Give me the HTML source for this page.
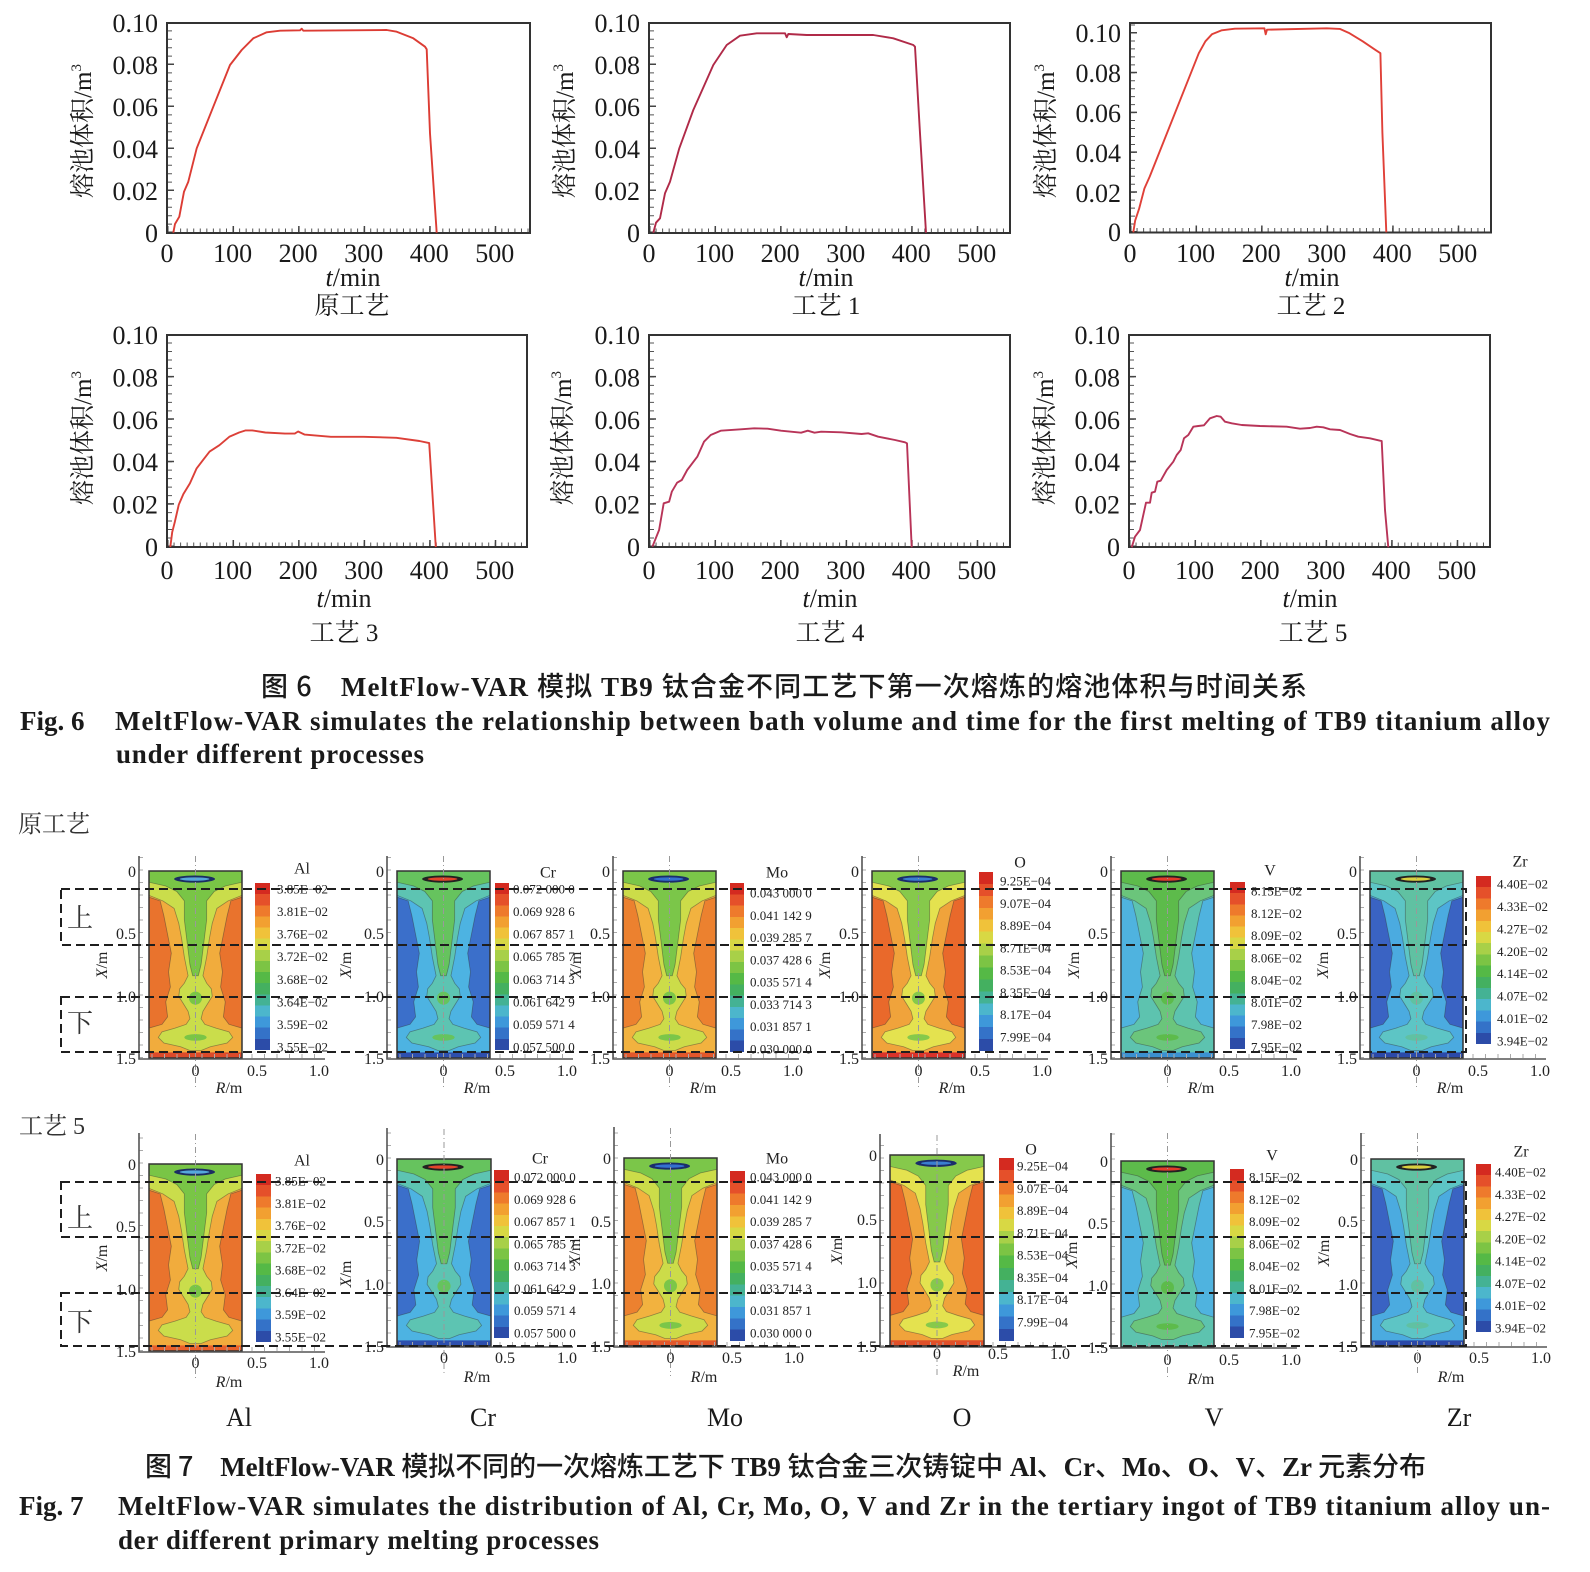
<!DOCTYPE html>
<html><head><meta charset="utf-8"><style>
html,body{margin:0;padding:0;background:#fff}
svg{display:block}
.fr{fill:none;stroke:#333;stroke-width:2}
.tk1{stroke:#555;stroke-width:5}
.tk2{stroke:#444;stroke-width:7}
.cv{fill:none;stroke-width:1.9;stroke-linejoin:round}
.t26{font-size:26px}
.e{text-anchor:end}
.m{text-anchor:middle}
.cl{stroke:#999;stroke-width:1;stroke-dasharray:6 3 1 3}
.ax{fill:none;stroke:#555;stroke-width:1.6}
.mt{stroke:#aaa;stroke-width:4;stroke-dasharray:1 11.5}
.tr{font-size:16px;text-anchor:end;fill:#222}
.tm{font-size:16px;text-anchor:middle;fill:#222}
.cb{font-size:13px;fill:#222}
.ct{font-size:16px;text-anchor:middle;fill:#222}
.cap{font-size:27px;font-weight:bold;font-family:"Liberation Serif","Noto Sans CJK SC",serif}
.hs{font-family:"Noto Sans CJK SC",sans-serif;font-weight:500}
.cs{font-family:"Liberation Serif","Noto Serif CJK SC",serif}
</style></head><body>
<svg width="1590" height="1572" viewBox="0 0 1590 1572" xmlns="http://www.w3.org/2000/svg" font-family="'Liberation Serif','Noto Serif CJK SC',serif" fill="#1a1a1a">
<defs>
<linearGradient id="cbg" x1="0" y1="0" x2="0" y2="1">
<stop offset="0" stop-color="#d42a20"/><stop offset=".0667" stop-color="#d42a20"/>
<stop offset=".0667" stop-color="#e5502a"/><stop offset=".1333" stop-color="#e5502a"/>
<stop offset=".1333" stop-color="#ee7a2c"/><stop offset=".2" stop-color="#ee7a2c"/>
<stop offset=".2" stop-color="#f2a031"/><stop offset=".2667" stop-color="#f2a031"/>
<stop offset=".2667" stop-color="#f0c23a"/><stop offset=".3333" stop-color="#f0c23a"/>
<stop offset=".3333" stop-color="#d8d844"/><stop offset=".4" stop-color="#d8d844"/>
<stop offset=".4" stop-color="#a8d048"/><stop offset=".4667" stop-color="#a8d048"/>
<stop offset=".4667" stop-color="#7cc444"/><stop offset=".5333" stop-color="#7cc444"/>
<stop offset=".5333" stop-color="#55b946"/><stop offset=".6" stop-color="#55b946"/>
<stop offset=".6" stop-color="#44b060"/><stop offset=".6667" stop-color="#44b060"/>
<stop offset=".6667" stop-color="#44b294"/><stop offset=".7333" stop-color="#44b294"/>
<stop offset=".7333" stop-color="#4cb6cc"/><stop offset=".8" stop-color="#4cb6cc"/>
<stop offset=".8" stop-color="#3e98da"/><stop offset=".8667" stop-color="#3e98da"/>
<stop offset=".8667" stop-color="#3472c8"/><stop offset=".9333" stop-color="#3472c8"/>
<stop offset=".9333" stop-color="#2c4ca8"/><stop offset="1" stop-color="#2c4ca8"/>
</linearGradient>
<path id="pm" stroke="#333" stroke-opacity=".45" stroke-width=".8" vector-effect="non-scaling-stroke" d="M0,0H100V14L88,16L84,24L80,34L76,44L79,54L77,62L82,70L80,78L86,82L100,84V100H0V84L14,82L20,78L18,70L23,62L21,54L24,44L20,34L16,24L12,16L0,14Z"/>
<path id="pl" stroke="#333" stroke-opacity=".45" stroke-width=".8" vector-effect="non-scaling-stroke" d="M0,2H100V13L85,16L73,20L68,28L65,36L62,46L58,56L62,60L67,63L68,67L63,71L58,75L56,79L60,82L72,84L86,86L90,89L84,92L66,94L56,96L44,96L34,94L16,92L10,89L14,86L28,84L40,82L44,79L42,75L37,71L32,67L33,63L38,60L42,56L38,46L35,36L32,28L27,20L15,16L0,13Z"/>
<path id="pc" stroke="#333" stroke-opacity=".45" stroke-width=".8" vector-effect="non-scaling-stroke" d="M0,0H100V6L82,8L70,11L62,16L62,26L60,34L58,42L56,50L53,56L47,56L44,50L42,42L40,34L38,26L38,16L30,11L18,8L0,6Z"/>
</defs>
<rect width="1590" height="1572" fill="#fff"/>

<!-- ============ LINE CHARTS ROW 1 ============ -->
<g>
<line x1="167" y1="231" x2="530" y2="231" class="tk1" stroke-dasharray="1 5.555"/>
<line x1="167" y1="229.5" x2="530" y2="229.5" class="tk2" stroke-dasharray="1.5 64.05"/>
<line x1="169.5" y1="233" x2="169.5" y2="23" class="tk1" stroke-dasharray="1 7.4"/>
<line x1="170.5" y1="233" x2="170.5" y2="23" class="tk2" stroke-dasharray="1.5 40.5"/>
<rect x="167" y="23" width="363" height="210" class="fr"/>
<polyline class="cv" stroke="#dc3c34" points="173.3,232.7 175,224 179.3,216.7 184,191.7 188.3,181.7 196.7,148.3 213.3,106.7 230,65 241.7,50 253.3,38.3 266.7,32.3 280,30.7 300,30.3 301.7,28.7 303.3,30.7 386.7,30 396.7,31.7 413.3,38.3 425,46.7 426.7,49.3 430,133.3 436.7,232.7"/>
<g class="t26">
<text x="158" y="32" class="e">0.10</text><text x="158" y="74" class="e">0.08</text><text x="158" y="116" class="e">0.06</text><text x="158" y="158" class="e">0.04</text><text x="158" y="200" class="e">0.02</text><text x="158" y="242" class="e">0</text>
<text x="167" y="262" class="m">0</text><text x="232.6" y="262" class="m">100</text><text x="298.1" y="262" class="m">200</text><text x="363.7" y="262" class="m">300</text><text x="429.2" y="262" class="m">400</text><text x="494.8" y="262" class="m">500</text>
<text x="353" y="286" class="m"><tspan font-style="italic">t</tspan>/min</text>
<text x="352" y="314" class="m" font-size="25">原工艺</text>
<text transform="translate(91,131) rotate(-90)" class="m" font-size="25">熔池体积/m<tspan font-size="15" dy="-10">3</tspan></text>
</g>
</g>
<g>
<line x1="649" y1="231" x2="1010" y2="231" class="tk1" stroke-dasharray="1 5.555"/>
<line x1="649" y1="229.5" x2="1010" y2="229.5" class="tk2" stroke-dasharray="1.5 64.05"/>
<line x1="651.5" y1="233" x2="651.5" y2="23" class="tk1" stroke-dasharray="1 7.4"/>
<line x1="652.5" y1="233" x2="652.5" y2="23" class="tk2" stroke-dasharray="1.5 40.5"/>
<rect x="649" y="23" width="361" height="210" class="fr"/>
<polyline class="cv" stroke="#b02a48" points="653.3,232.7 656,222.7 660,218.3 665,193.3 670,181.7 679.3,148.3 693.3,110 713.3,65 726.7,45 740,35.7 756.7,33.3 785,33.3 786.7,37.3 788.3,34 806.7,35 873.3,35 893.3,38.3 913.3,45 915,46.7 920,133.3 926,232.7"/>
<g class="t26">
<text x="640" y="32" class="e">0.10</text><text x="640" y="74" class="e">0.08</text><text x="640" y="116" class="e">0.06</text><text x="640" y="158" class="e">0.04</text><text x="640" y="200" class="e">0.02</text><text x="640" y="242" class="e">0</text>
<text x="649" y="262" class="m">0</text><text x="714.6" y="262" class="m">100</text><text x="780.1" y="262" class="m">200</text><text x="845.7" y="262" class="m">300</text><text x="911.2" y="262" class="m">400</text><text x="976.8" y="262" class="m">500</text>
<text x="826" y="286" class="m"><tspan font-style="italic">t</tspan>/min</text>
<text x="826" y="314" class="m" font-size="25">工艺 1</text>
<text transform="translate(573,131) rotate(-90)" class="m" font-size="25">熔池体积/m<tspan font-size="15" dy="-10">3</tspan></text>
</g>
</g>
<g>
<line x1="1130" y1="230.5" x2="1491" y2="230.5" class="tk1" stroke-dasharray="1 5.555"/>
<line x1="1130" y1="229" x2="1491" y2="229" class="tk2" stroke-dasharray="1.5 64.05"/>
<line x1="1132.5" y1="232.5" x2="1132.5" y2="23" class="tk1" stroke-dasharray="1 6.96"/>
<line x1="1133.5" y1="232.5" x2="1133.5" y2="23" class="tk2" stroke-dasharray="1.5 38.3"/>
<rect x="1130" y="23" width="361" height="209.5" class="fr"/>
<polyline class="cv" stroke="#e04038" points="1133.3,232.3 1135.2,220.4 1139.2,208.4 1144.4,188.5 1149.7,176.6 1198.8,53.2 1205.4,41.3 1211.9,34.3 1221.8,30.3 1234.9,28.7 1264.4,28.3 1265.7,34.3 1267,29.7 1326.7,28.3 1339.8,28.9 1349.6,33.3 1362.7,41.3 1375.8,50.2 1380.4,53.2 1382.4,132.8 1386.3,232.3"/>
<g class="t26">
<text x="1121" y="42" class="e">0.10</text><text x="1121" y="82" class="e">0.08</text><text x="1121" y="122" class="e">0.06</text><text x="1121" y="162" class="e">0.04</text><text x="1121" y="202" class="e">0.02</text><text x="1121" y="241" class="e">0</text>
<text x="1130" y="262" class="m">0</text><text x="1195.6" y="262" class="m">100</text><text x="1261.1" y="262" class="m">200</text><text x="1326.7" y="262" class="m">300</text><text x="1392.2" y="262" class="m">400</text><text x="1457.8" y="262" class="m">500</text>
<text x="1312" y="286" class="m"><tspan font-style="italic">t</tspan>/min</text>
<text x="1311" y="314" class="m" font-size="25">工艺 2</text>
<text transform="translate(1054,131) rotate(-90)" class="m" font-size="25">熔池体积/m<tspan font-size="15" dy="-10">3</tspan></text>
</g>
</g>

<!-- ============ LINE CHARTS ROW 2 ============ -->
<g>
<line x1="167" y1="545" x2="527" y2="545" class="tk1" stroke-dasharray="1 5.555"/>
<line x1="167" y1="543.5" x2="527" y2="543.5" class="tk2" stroke-dasharray="1.5 64.05"/>
<line x1="169.5" y1="547" x2="169.5" y2="335" class="tk1" stroke-dasharray="1 7.48"/>
<line x1="170.5" y1="547" x2="170.5" y2="335" class="tk2" stroke-dasharray="1.5 40.9"/>
<rect x="167" y="335" width="360" height="212" class="fr"/>
<polyline class="cv" stroke="#dc4038" points="170.3,547 172.2,532.2 174.9,521.6 178.8,504.6 183.4,494 189.9,483.4 196.5,468.6 203,460.1 209.6,451.6 219.4,445.2 229.3,436.8 239.1,432.5 245.7,430.4 252.2,430.4 265.3,432.5 285,433.6 294.8,433.6 298.1,431.5 304.7,434.6 330.9,436.8 363.7,436.8 396.4,437.8 419.4,441 429.2,443.1 435.8,547"/>
<g class="t26">
<text x="158" y="344" class="e">0.10</text><text x="158" y="386.4" class="e">0.08</text><text x="158" y="428.8" class="e">0.06</text><text x="158" y="471.2" class="e">0.04</text><text x="158" y="513.6" class="e">0.02</text><text x="158" y="556" class="e">0</text>
<text x="167" y="579" class="m">0</text><text x="232.6" y="579" class="m">100</text><text x="298.1" y="579" class="m">200</text><text x="363.7" y="579" class="m">300</text><text x="429.2" y="579" class="m">400</text><text x="494.8" y="579" class="m">500</text>
<text x="344" y="607" class="m"><tspan font-style="italic">t</tspan>/min</text>
<text x="344" y="641" class="m" font-size="25">工艺 3</text>
<text transform="translate(91,438) rotate(-90)" class="m" font-size="25">熔池体积/m<tspan font-size="15" dy="-10">3</tspan></text>
</g>
</g>
<g>
<line x1="649" y1="545" x2="1010" y2="545" class="tk1" stroke-dasharray="1 5.555"/>
<line x1="649" y1="543.5" x2="1010" y2="543.5" class="tk2" stroke-dasharray="1.5 64.05"/>
<line x1="651.5" y1="547" x2="651.5" y2="335" class="tk1" stroke-dasharray="1 7.48"/>
<line x1="652.5" y1="547" x2="652.5" y2="335" class="tk2" stroke-dasharray="1.5 40.9"/>
<rect x="649" y="335" width="361" height="212" class="fr"/>
<polyline class="cv" stroke="#b83458" points="652.4,546.7 659.1,530 663.7,503.3 669.1,501.7 671.8,491.7 677.1,482.7 681.8,480 687.2,470 697.3,456.7 704,441.7 710.7,435 720.7,430.7 740.8,429.3 754.2,428.3 767.6,428.7 781,430.7 801.1,432.7 807.8,430.7 814.5,432.7 821.2,431.7 841.3,432.3 861.5,434 868.2,433.3 878.2,436.7 895,440 905,442.3 907,443.3 911.7,547.3"/>
<g class="t26">
<text x="640" y="344" class="e">0.10</text><text x="640" y="386.4" class="e">0.08</text><text x="640" y="428.8" class="e">0.06</text><text x="640" y="471.2" class="e">0.04</text><text x="640" y="513.6" class="e">0.02</text><text x="640" y="556" class="e">0</text>
<text x="649" y="579" class="m">0</text><text x="714.6" y="579" class="m">100</text><text x="780.1" y="579" class="m">200</text><text x="845.7" y="579" class="m">300</text><text x="911.2" y="579" class="m">400</text><text x="976.8" y="579" class="m">500</text>
<text x="830" y="607" class="m"><tspan font-style="italic">t</tspan>/min</text>
<text x="830" y="641" class="m" font-size="25">工艺 4</text>
<text transform="translate(571,438) rotate(-90)" class="m" font-size="25">熔池体积/m<tspan font-size="15" dy="-10">3</tspan></text>
</g>
</g>
<g>
<line x1="1129" y1="545" x2="1490" y2="545" class="tk1" stroke-dasharray="1 5.555"/>
<line x1="1129" y1="543.5" x2="1490" y2="543.5" class="tk2" stroke-dasharray="1.5 64.05"/>
<line x1="1131.5" y1="547" x2="1131.5" y2="335" class="tk1" stroke-dasharray="1 7.48"/>
<line x1="1132.5" y1="547" x2="1132.5" y2="335" class="tk2" stroke-dasharray="1.5 40.9"/>
<rect x="1129" y="335" width="361" height="212" class="fr"/>
<polyline class="cv" stroke="#b83458" points="1131.7,547.3 1135,536.7 1140,530 1146,502.7 1150,502.7 1151.7,492.7 1155,491.7 1157.3,481.7 1160.7,480.7 1166.7,470 1173.3,461.7 1176.7,455 1180.7,450 1184,438.3 1188.3,435 1193.3,426.7 1198.3,426 1204,425.3 1210,418.3 1216.7,416 1220.7,416.7 1225,421.7 1231.7,423.3 1241.7,425 1260,426 1286.7,426.7 1300,428.7 1310,428 1316.7,426.7 1323.3,427.3 1330,429.3 1340,430 1350,434 1358.3,436.7 1370,438.3 1380,440.7 1381.7,441 1385,510 1388.3,547.3"/>
<g class="t26">
<text x="1120" y="344" class="e">0.10</text><text x="1120" y="386.4" class="e">0.08</text><text x="1120" y="428.8" class="e">0.06</text><text x="1120" y="471.2" class="e">0.04</text><text x="1120" y="513.6" class="e">0.02</text><text x="1120" y="556" class="e">0</text>
<text x="1129" y="579" class="m">0</text><text x="1194.6" y="579" class="m">100</text><text x="1260.1" y="579" class="m">200</text><text x="1325.7" y="579" class="m">300</text><text x="1391.2" y="579" class="m">400</text><text x="1456.8" y="579" class="m">500</text>
<text x="1310" y="607" class="m"><tspan font-style="italic">t</tspan>/min</text>
<text x="1313" y="641" class="m" font-size="25">工艺 5</text>
<text transform="translate(1053,438) rotate(-90)" class="m" font-size="25">熔池体积/m<tspan font-size="15" dy="-10">3</tspan></text>
</g>
</g>

<!-- ============ FIG 6 CAPTION ============ -->
<text class="cap" x="261" y="696" textLength="1046" lengthAdjust="spacing"><tspan class="hs">图 6　</tspan>MeltFlow-VAR <tspan class="hs">模拟</tspan> TB9 <tspan class="hs">钛合金不同工艺下第一次熔炼的熔池体积与时间关系</tspan></text>
<text class="cap" x="20" y="730">Fig. 6</text>
<text class="cap" x="115" y="730" textLength="1435" lengthAdjust="spacing">MeltFlow-VAR simulates the relationship between bath volume and time for the first melting of TB9 titanium alloy</text>
<text class="cap" x="116" y="763" textLength="308" lengthAdjust="spacing">under different processes</text>

<!-- ============ FIG 7 ============ -->
<text x="18" y="832" font-size="24" class="cs" fill="#333">原工艺</text>
<text x="19" y="1134" font-size="24" class="cs" fill="#333">工艺 5</text>

<!-- ROW 1 PANELS -->
<g transform="translate(149,871)">
<g transform="scale(.93,1.87)">
<rect width="100" height="100" fill="#e9732d"/><use href="#pm" fill="#f1ac3d"/><use href="#pl" fill="#cadd4b"/><use href="#pc" fill="#79c546"/>
<ellipse cx="50" cy="68" rx="7" ry="3.5" fill="#79c546"/><ellipse cx="50" cy="89" rx="12" ry="1.8" fill="#79c546"/>
<rect y="97" width="100" height="3" fill="#dc4a2a"/>
<ellipse cx="49" cy="4.3" rx="22" ry="1.9" fill="#1b2d63"/><ellipse cx="49" cy="4.3" rx="16" ry="0.9" fill="#56a8dc"/>
</g>
<rect width="93" height="187" fill="none" stroke="#333" stroke-width="1.5"/>
<line x1="46.5" y1="-15" x2="46.5" y2="217" class="cl"/>
<line x1="-8" y1="187" x2="-8" y2="-15" class="mt"/><line x1="-10" y1="185" x2="176" y2="185" class="mt"/>
<path d="M-10,-15V188H176" class="ax"/>
<text x="-13" y="6" class="tr">0</text><text x="-13" y="68" class="tr">0.5</text><text x="-13" y="131" class="tr">1.0</text><text x="-13" y="193" class="tr">1.5</text>
<text x="46.5" y="205" class="tm">0</text><text x="108" y="205" class="tm">0.5</text><text x="170" y="205" class="tm">1.0</text>
<text x="80" y="222" class="tm"><tspan font-style="italic">R</tspan>/m</text>
<text transform="translate(-42,94) rotate(-90)" class="tm"><tspan font-style="italic">X</tspan>/m</text>
</g>
<rect x="255" y="883" width="15" height="167" fill="url(#cbg)"/>
<text x="302" y="873.5" class="ct">Al</text>
<g class="cb"><text x="277" y="893.5">3.85E−02</text><text x="277" y="916.1">3.81E−02</text><text x="277" y="938.6">3.76E−02</text><text x="277" y="961.2">3.72E−02</text><text x="277" y="983.8">3.68E−02</text><text x="277" y="1006.4">3.64E−02</text><text x="277" y="1028.9">3.59E−02</text><text x="277" y="1051.5">3.55E−02</text></g>

<g transform="translate(397,871)">
<g transform="scale(.93,1.87)">
<rect width="100" height="100" fill="#3b6fca"/><use href="#pm" fill="#4db3e2"/><use href="#pl" fill="#5dc4b2"/><use href="#pc" fill="#66c35e"/>
<ellipse cx="50" cy="68" rx="7" ry="3.5" fill="#66c35e"/><ellipse cx="50" cy="89" rx="12" ry="1.8" fill="#66c35e"/>
<rect y="97" width="100" height="3" fill="#2d4fae"/>
<ellipse cx="49" cy="4.3" rx="22" ry="1.9" fill="#222"/><ellipse cx="49" cy="4.3" rx="16" ry="0.9" fill="#e2452c"/>
</g>
<rect width="93" height="187" fill="none" stroke="#333" stroke-width="1.5"/>
<line x1="46.5" y1="-15" x2="46.5" y2="217" class="cl"/>
<line x1="-8" y1="187" x2="-8" y2="-15" class="mt"/><line x1="-10" y1="185" x2="176" y2="185" class="mt"/>
<path d="M-10,-15V188H176" class="ax"/>
<text x="-13" y="6" class="tr">0</text><text x="-13" y="68" class="tr">0.5</text><text x="-13" y="131" class="tr">1.0</text><text x="-13" y="193" class="tr">1.5</text>
<text x="46.5" y="205" class="tm">0</text><text x="108" y="205" class="tm">0.5</text><text x="170" y="205" class="tm">1.0</text>
<text x="80" y="222" class="tm"><tspan font-style="italic">R</tspan>/m</text>
<text transform="translate(-46,94) rotate(-90)" class="tm"><tspan font-style="italic">X</tspan>/m</text>
</g>
<rect x="495" y="883" width="14" height="167" fill="url(#cbg)"/>
<text x="548" y="877.5" class="ct">Cr</text>
<g class="cb"><text x="513" y="893.5">0.072 000 0</text><text x="513" y="916.1">0.069 928 6</text><text x="513" y="938.6">0.067 857 1</text><text x="513" y="961.2">0.065 785 7</text><text x="513" y="983.8">0.063 714 3</text><text x="513" y="1006.4">0.061 642 9</text><text x="513" y="1028.9">0.059 571 4</text><text x="513" y="1051.5">0.057 500 0</text></g>

<g transform="translate(623,871)">
<g transform="scale(.93,1.87)">
<rect width="100" height="100" fill="#ec812f"/><use href="#pm" fill="#f2b23f"/><use href="#pl" fill="#ccdc49"/><use href="#pc" fill="#7bc649"/>
<ellipse cx="50" cy="68" rx="7" ry="3.5" fill="#7bc649"/><ellipse cx="50" cy="89" rx="12" ry="1.8" fill="#7bc649"/>
<rect y="97" width="100" height="3" fill="#e2572b"/>
<ellipse cx="49" cy="4.3" rx="22" ry="1.9" fill="#1b2d6b"/><ellipse cx="49" cy="4.3" rx="16" ry="0.9" fill="#3470d0"/>
</g>
<rect width="93" height="187" fill="none" stroke="#333" stroke-width="1.5"/>
<line x1="46.5" y1="-15" x2="46.5" y2="217" class="cl"/>
<line x1="-8" y1="187" x2="-8" y2="-15" class="mt"/><line x1="-10" y1="185" x2="176" y2="185" class="mt"/>
<path d="M-10,-15V188H176" class="ax"/>
<text x="-13" y="6" class="tr">0</text><text x="-13" y="68" class="tr">0.5</text><text x="-13" y="131" class="tr">1.0</text><text x="-13" y="193" class="tr">1.5</text>
<text x="46.5" y="205" class="tm">0</text><text x="108" y="205" class="tm">0.5</text><text x="170" y="205" class="tm">1.0</text>
<text x="80" y="222" class="tm"><tspan font-style="italic">R</tspan>/m</text>
<text transform="translate(-42,94) rotate(-90)" class="tm"><tspan font-style="italic">X</tspan>/m</text>
</g>
<rect x="730" y="883" width="14" height="169" fill="url(#cbg)"/>
<text x="777" y="877.5" class="ct">Mo</text>
<g class="cb"><text x="750" y="897.5">0.043 000 0</text><text x="750" y="919.8">0.041 142 9</text><text x="750" y="942.1">0.039 285 7</text><text x="750" y="964.4">0.037 428 6</text><text x="750" y="986.6">0.035 571 4</text><text x="750" y="1008.9">0.033 714 3</text><text x="750" y="1031.2">0.031 857 1</text><text x="750" y="1053.5">0.030 000 0</text></g>

<g transform="translate(872,871)">
<g transform="scale(.93,1.87)">
<rect width="100" height="100" fill="#e9692b"/><use href="#pm" fill="#f0a33b"/><use href="#pl" fill="#e4e24f"/><use href="#pc" fill="#86c94b"/>
<ellipse cx="50" cy="68" rx="7" ry="3.5" fill="#86c94b"/><ellipse cx="50" cy="89" rx="12" ry="1.8" fill="#86c94b"/>
<rect y="97" width="100" height="3" fill="#d9322a"/>
<ellipse cx="49" cy="4.3" rx="22" ry="1.9" fill="#1b2d6b"/><ellipse cx="49" cy="4.3" rx="16" ry="0.9" fill="#3a7fd0"/>
</g>
<rect width="93" height="187" fill="none" stroke="#333" stroke-width="1.5"/>
<line x1="46.5" y1="-15" x2="46.5" y2="217" class="cl"/>
<line x1="-8" y1="187" x2="-8" y2="-15" class="mt"/><line x1="-10" y1="185" x2="176" y2="185" class="mt"/>
<path d="M-10,-15V188H176" class="ax"/>
<text x="-13" y="6" class="tr">0</text><text x="-13" y="68" class="tr">0.5</text><text x="-13" y="131" class="tr">1.0</text><text x="-13" y="193" class="tr">1.5</text>
<text x="46.5" y="205" class="tm">0</text><text x="108" y="205" class="tm">0.5</text><text x="170" y="205" class="tm">1.0</text>
<text x="80" y="222" class="tm"><tspan font-style="italic">R</tspan>/m</text>
<text transform="translate(-42,94) rotate(-90)" class="tm"><tspan font-style="italic">X</tspan>/m</text>
</g>
<rect x="979" y="872" width="14" height="179" fill="url(#cbg)"/>
<text x="1020" y="867.5" class="ct">O</text>
<g class="cb"><text x="1000" y="885.5">9.25E−04</text><text x="1000" y="907.8">9.07E−04</text><text x="1000" y="930.1">8.89E−04</text><text x="1000" y="952.4">8.71E−04</text><text x="1000" y="974.6">8.53E−04</text><text x="1000" y="996.9">8.35E−04</text><text x="1000" y="1019.2">8.17E−04</text><text x="1000" y="1041.5">7.99E−04</text></g>

<g transform="translate(1121,871)">
<g transform="scale(.93,1.87)">
<rect width="100" height="100" fill="#4fb3df"/><use href="#pm" fill="#5dc3af"/><use href="#pl" fill="#6bc57b"/><use href="#pc" fill="#5dbb4b"/>
<ellipse cx="50" cy="68" rx="7" ry="3.5" fill="#5dbb4b"/><ellipse cx="50" cy="89" rx="12" ry="1.8" fill="#5dbb4b"/>
<rect y="97" width="100" height="3" fill="#3b90d0"/>
<ellipse cx="49" cy="4.3" rx="22" ry="1.9" fill="#222"/><ellipse cx="49" cy="4.3" rx="16" ry="0.9" fill="#e23b2b"/>
</g>
<rect width="93" height="187" fill="none" stroke="#333" stroke-width="1.5"/>
<line x1="46.5" y1="-15" x2="46.5" y2="217" class="cl"/>
<line x1="-8" y1="187" x2="-8" y2="-15" class="mt"/><line x1="-10" y1="185" x2="176" y2="185" class="mt"/>
<path d="M-10,-15V188H176" class="ax"/>
<text x="-13" y="6" class="tr">0</text><text x="-13" y="68" class="tr">0.5</text><text x="-13" y="131" class="tr">1.0</text><text x="-13" y="193" class="tr">1.5</text>
<text x="46.5" y="205" class="tm">0</text><text x="108" y="205" class="tm">0.5</text><text x="170" y="205" class="tm">1.0</text>
<text x="80" y="222" class="tm"><tspan font-style="italic">R</tspan>/m</text>
<text transform="translate(-42,94) rotate(-90)" class="tm"><tspan font-style="italic">X</tspan>/m</text>
</g>
<rect x="1230" y="882" width="15" height="167" fill="url(#cbg)"/>
<text x="1270" y="875.5" class="ct">V</text>
<g class="cb"><text x="1251" y="895.5">8.15E−02</text><text x="1251" y="917.8">8.12E−02</text><text x="1251" y="940.1">8.09E−02</text><text x="1251" y="962.4">8.06E−02</text><text x="1251" y="984.6">8.04E−02</text><text x="1251" y="1006.9">8.01E−02</text><text x="1251" y="1029.2">7.98E−02</text><text x="1251" y="1051.5">7.95E−02</text></g>

<g transform="translate(1370,871)">
<g transform="scale(.93,1.87)">
<rect width="100" height="100" fill="#3a63c3"/><use href="#pm" fill="#4babe0"/><use href="#pl" fill="#5dc5c5"/><use href="#pc" fill="#60c1a2"/>
<ellipse cx="50" cy="68" rx="7" ry="3.5" fill="#60c1a2"/><ellipse cx="50" cy="89" rx="12" ry="1.8" fill="#60c1a2"/>
<rect y="97" width="100" height="3" fill="#2b49a9"/>
<ellipse cx="49" cy="4.3" rx="22" ry="1.9" fill="#222"/><ellipse cx="49" cy="4.3" rx="16" ry="0.9" fill="#d9d141"/>
</g>
<rect width="93" height="187" fill="none" stroke="#333" stroke-width="1.5"/>
<line x1="46.5" y1="-15" x2="46.5" y2="217" class="cl"/>
<line x1="-8" y1="187" x2="-8" y2="-15" class="mt"/><line x1="-10" y1="185" x2="176" y2="185" class="mt"/>
<path d="M-10,-15V188H176" class="ax"/>
<text x="-13" y="6" class="tr">0</text><text x="-13" y="68" class="tr">0.5</text><text x="-13" y="131" class="tr">1.0</text><text x="-13" y="193" class="tr">1.5</text>
<text x="46.5" y="205" class="tm">0</text><text x="108" y="205" class="tm">0.5</text><text x="170" y="205" class="tm">1.0</text>
<text x="80" y="222" class="tm"><tspan font-style="italic">R</tspan>/m</text>
<text transform="translate(-42,94) rotate(-90)" class="tm"><tspan font-style="italic">X</tspan>/m</text>
</g>
<rect x="1476" y="876" width="15" height="168" fill="url(#cbg)"/>
<text x="1520" y="866.5" class="ct">Zr</text>
<g class="cb"><text x="1497" y="888.5">4.40E−02</text><text x="1497" y="910.9">4.33E−02</text><text x="1497" y="933.4">4.27E−02</text><text x="1497" y="955.8">4.20E−02</text><text x="1497" y="978.2">4.14E−02</text><text x="1497" y="1000.6">4.07E−02</text><text x="1497" y="1023.1">4.01E−02</text><text x="1497" y="1045.5">3.94E−02</text></g>

<!-- ROW 2 PANELS -->
<g transform="translate(149,1164)">
<g transform="scale(.93,1.87)">
<rect width="100" height="100" fill="#e9732d"/><use href="#pm" fill="#f1ac3d"/><use href="#pl" fill="#cadd4b"/><use href="#pc" fill="#79c546"/>
<ellipse cx="50" cy="68" rx="7" ry="3.5" fill="#79c546"/><ellipse cx="50" cy="89" rx="12" ry="1.8" fill="#cadd4b"/>
<rect y="97" width="100" height="3" fill="#e8602a"/>
<ellipse cx="49" cy="4.3" rx="22" ry="1.9" fill="#1b2d63"/><ellipse cx="49" cy="4.3" rx="16" ry="0.9" fill="#56a8dc"/>
</g>
<rect width="93" height="187" fill="none" stroke="#333" stroke-width="1.5"/>
<line x1="46.5" y1="-30" x2="46.5" y2="217" class="cl"/>
<line x1="-8" y1="187" x2="-8" y2="-30" class="mt"/><line x1="-10" y1="185" x2="176" y2="185" class="mt"/>
<path d="M-10,-31V188H176" class="ax"/>
<text x="-13" y="6" class="tr">0</text><text x="-13" y="68" class="tr">0.5</text><text x="-13" y="131" class="tr">1.0</text><text x="-13" y="193" class="tr">1.5</text>
<text x="46.5" y="204" class="tm">0</text><text x="108" y="204" class="tm">0.5</text><text x="170" y="204" class="tm">1.0</text>
<text x="80" y="223" class="tm"><tspan font-style="italic">R</tspan>/m</text>
<text transform="translate(-42,94) rotate(-90)" class="tm"><tspan font-style="italic">X</tspan>/m</text>
</g>
<rect x="256" y="1174" width="15" height="168" fill="url(#cbg)"/>
<text x="302" y="1165.5" class="ct">Al</text>
<g class="cb"><text x="275" y="1185.5">3.85E−02</text><text x="275" y="1207.8">3.81E−02</text><text x="275" y="1230.1">3.76E−02</text><text x="275" y="1252.4">3.72E−02</text><text x="275" y="1274.6">3.68E−02</text><text x="275" y="1296.9">3.64E−02</text><text x="275" y="1319.2">3.59E−02</text><text x="275" y="1341.5">3.55E−02</text></g>

<g transform="translate(397,1159)">
<g transform="scale(.94,1.87)">
<rect width="100" height="100" fill="#3b6fca"/><use href="#pm" fill="#4db3e2"/><use href="#pl" fill="#5dc4b2"/><use href="#pc" fill="#66c35e"/>
<ellipse cx="50" cy="68" rx="7" ry="3.5" fill="#66c35e"/><ellipse cx="50" cy="89" rx="12" ry="1.8" fill="#5dc4b2"/>
<rect y="97" width="100" height="3" fill="#2d4fae"/>
<ellipse cx="49" cy="4.3" rx="22" ry="1.9" fill="#222"/><ellipse cx="49" cy="4.3" rx="16" ry="0.9" fill="#e2452c"/>
</g>
<rect width="94" height="187" fill="none" stroke="#333" stroke-width="1.5"/>
<line x1="47" y1="-30" x2="47" y2="217" class="cl"/>
<line x1="-8" y1="187" x2="-8" y2="-30" class="mt"/><line x1="-10" y1="185" x2="176" y2="185" class="mt"/>
<path d="M-10,-31V188H176" class="ax"/>
<text x="-13" y="6" class="tr">0</text><text x="-13" y="68" class="tr">0.5</text><text x="-13" y="131" class="tr">1.0</text><text x="-13" y="193" class="tr">1.5</text>
<text x="47" y="204" class="tm">0</text><text x="108" y="204" class="tm">0.5</text><text x="170" y="204" class="tm">1.0</text>
<text x="80" y="223" class="tm"><tspan font-style="italic">R</tspan>/m</text>
<text transform="translate(-46,115) rotate(-90)" class="tm"><tspan font-style="italic">X</tspan>/m</text>
</g>
<rect x="494" y="1170" width="15" height="168" fill="url(#cbg)"/>
<text x="540" y="1163.5" class="ct">Cr</text>
<g class="cb"><text x="514" y="1181.5">0.072 000 0</text><text x="514" y="1203.8">0.069 928 6</text><text x="514" y="1226.1">0.067 857 1</text><text x="514" y="1248.4">0.065 785 7</text><text x="514" y="1270.6">0.063 714 3</text><text x="514" y="1292.9">0.061 642 9</text><text x="514" y="1315.2">0.059 571 4</text><text x="514" y="1337.5">0.057 500 0</text></g>

<g transform="translate(624,1158)">
<g transform="scale(.93,1.88)">
<rect width="100" height="100" fill="#ec812f"/><use href="#pm" fill="#f2b23f"/><use href="#pl" fill="#ccdc49"/><use href="#pc" fill="#7bc649"/>
<ellipse cx="50" cy="68" rx="7" ry="3.5" fill="#7bc649"/><ellipse cx="50" cy="89" rx="12" ry="1.8" fill="#7bc649"/>
<rect y="97" width="100" height="3" fill="#e2572b"/>
<ellipse cx="49" cy="4.3" rx="22" ry="1.9" fill="#1b2d6b"/><ellipse cx="49" cy="4.3" rx="16" ry="0.9" fill="#3470d0"/>
</g>
<rect width="93" height="188" fill="none" stroke="#333" stroke-width="1.5"/>
<line x1="46.5" y1="-30" x2="46.5" y2="218" class="cl"/>
<line x1="-8" y1="188" x2="-8" y2="-30" class="mt"/><line x1="-10" y1="186" x2="176" y2="186" class="mt"/>
<path d="M-10,-31V189H176" class="ax"/>
<text x="-13" y="6" class="tr">0</text><text x="-13" y="69" class="tr">0.5</text><text x="-13" y="131" class="tr">1.0</text><text x="-13" y="194" class="tr">1.5</text>
<text x="46.5" y="205" class="tm">0</text><text x="108" y="205" class="tm">0.5</text><text x="170" y="205" class="tm">1.0</text>
<text x="80" y="224" class="tm"><tspan font-style="italic">R</tspan>/m</text>
<text transform="translate(-44,94) rotate(-90)" class="tm"><tspan font-style="italic">X</tspan>/m</text>
</g>
<rect x="730" y="1171" width="15" height="170" fill="url(#cbg)"/>
<text x="777" y="1163.5" class="ct">Mo</text>
<g class="cb"><text x="750" y="1181.5">0.043 000 0</text><text x="750" y="1203.8">0.041 142 9</text><text x="750" y="1226.1">0.039 285 7</text><text x="750" y="1248.4">0.037 428 6</text><text x="750" y="1270.6">0.035 571 4</text><text x="750" y="1292.9">0.033 714 3</text><text x="750" y="1315.2">0.031 857 1</text><text x="750" y="1337.5">0.030 000 0</text></g>

<g transform="translate(890,1155)">
<g transform="scale(.94,1.91)">
<rect width="100" height="100" fill="#e9692b"/><use href="#pm" fill="#f0a33b"/><use href="#pl" fill="#e4e24f"/><use href="#pc" fill="#86c94b"/>
<ellipse cx="50" cy="68" rx="7" ry="3.5" fill="#86c94b"/><ellipse cx="50" cy="89" rx="12" ry="1.8" fill="#86c94b"/>
<rect y="97" width="100" height="3" fill="#e0502a"/>
<ellipse cx="49" cy="4.3" rx="22" ry="1.9" fill="#1b2d6b"/><ellipse cx="49" cy="4.3" rx="16" ry="0.9" fill="#3a7fd0"/>
</g>
<rect width="94" height="191" fill="none" stroke="#333" stroke-width="1.5"/>
<line x1="47" y1="-20" x2="47" y2="221" class="cl"/>
<line x1="-8" y1="191" x2="-8" y2="-20" class="mt"/><line x1="-10" y1="189" x2="176" y2="189" class="mt"/>
<path d="M-10,-21V192H176" class="ax"/>
<text x="-13" y="6" class="tr">0</text><text x="-13" y="70" class="tr">0.5</text><text x="-13" y="133" class="tr">1.0</text><text x="-13" y="197" class="tr">1.5</text>
<text x="47" y="204" class="tm">0</text><text x="108" y="204" class="tm">0.5</text><text x="170" y="204" class="tm">1.0</text>
<text x="76" y="221" class="tm"><tspan font-style="italic">R</tspan>/m</text>
<text transform="translate(-48,96) rotate(-90)" class="tm"><tspan font-style="italic">X</tspan>/m</text>
</g>
<rect x="999" y="1158" width="15" height="183" fill="url(#cbg)"/>
<text x="1031" y="1154.5" class="ct">O</text>
<g class="cb"><text x="1017" y="1170.5">9.25E−04</text><text x="1017" y="1192.8">9.07E−04</text><text x="1017" y="1215.1">8.89E−04</text><text x="1017" y="1237.4">8.71E−04</text><text x="1017" y="1259.6">8.53E−04</text><text x="1017" y="1281.9">8.35E−04</text><text x="1017" y="1304.2">8.17E−04</text><text x="1017" y="1326.5">7.99E−04</text></g>

<g transform="translate(1121,1161)">
<g transform="scale(.93,1.86)">
<rect width="100" height="100" fill="#4fb3df"/><use href="#pm" fill="#5dc3af"/><use href="#pl" fill="#6bc57b"/><use href="#pc" fill="#5dbb4b"/>
<ellipse cx="50" cy="68" rx="7" ry="3.5" fill="#5dbb4b"/><ellipse cx="50" cy="89" rx="12" ry="1.8" fill="#5dbb4b"/>
<rect y="97" width="100" height="3" fill="#5dc3af"/>
<ellipse cx="49" cy="4.3" rx="22" ry="1.9" fill="#222"/><ellipse cx="49" cy="4.3" rx="16" ry="0.9" fill="#e23b2b"/>
</g>
<rect width="93" height="186" fill="none" stroke="#333" stroke-width="1.5"/>
<line x1="46.5" y1="-28" x2="46.5" y2="216" class="cl"/>
<line x1="-8" y1="186" x2="-8" y2="-28" class="mt"/><line x1="-10" y1="184" x2="176" y2="184" class="mt"/>
<path d="M-10,-28V187H176" class="ax"/>
<text x="-13" y="6" class="tr">0</text><text x="-13" y="68" class="tr">0.5</text><text x="-13" y="130" class="tr">1.0</text><text x="-13" y="192" class="tr">1.5</text>
<text x="46.5" y="204" class="tm">0</text><text x="108" y="204" class="tm">0.5</text><text x="170" y="204" class="tm">1.0</text>
<text x="80" y="223" class="tm"><tspan font-style="italic">R</tspan>/m</text>
<text transform="translate(-44,94) rotate(-90)" class="tm"><tspan font-style="italic">X</tspan>/m</text>
</g>
<rect x="1230" y="1169" width="14" height="169" fill="url(#cbg)"/>
<text x="1272" y="1160.5" class="ct">V</text>
<g class="cb"><text x="1249" y="1181.5">8.15E−02</text><text x="1249" y="1203.8">8.12E−02</text><text x="1249" y="1226.1">8.09E−02</text><text x="1249" y="1248.4">8.06E−02</text><text x="1249" y="1270.6">8.04E−02</text><text x="1249" y="1292.9">8.01E−02</text><text x="1249" y="1315.2">7.98E−02</text><text x="1249" y="1337.5">7.95E−02</text></g>

<g transform="translate(1371,1159)">
<g transform="scale(.93,1.87)">
<rect width="100" height="100" fill="#3a63c3"/><use href="#pm" fill="#4babe0"/><use href="#pl" fill="#5dc5c5"/><use href="#pc" fill="#60c1a2"/>
<ellipse cx="50" cy="68" rx="7" ry="3.5" fill="#60c1a2"/><ellipse cx="50" cy="89" rx="12" ry="1.8" fill="#60c1a2"/>
<rect y="97" width="100" height="3" fill="#2b49a9"/>
<ellipse cx="49" cy="4.3" rx="22" ry="1.9" fill="#222"/><ellipse cx="49" cy="4.3" rx="16" ry="0.9" fill="#d9d141"/>
</g>
<rect width="93" height="187" fill="none" stroke="#333" stroke-width="1.5"/>
<line x1="46.5" y1="-26" x2="46.5" y2="217" class="cl"/>
<line x1="-8" y1="187" x2="-8" y2="-26" class="mt"/><line x1="-10" y1="185" x2="176" y2="185" class="mt"/>
<path d="M-10,-26V188H176" class="ax"/>
<text x="-13" y="6" class="tr">0</text><text x="-13" y="68" class="tr">0.5</text><text x="-13" y="131" class="tr">1.0</text><text x="-13" y="193" class="tr">1.5</text>
<text x="46.5" y="204" class="tm">0</text><text x="108" y="204" class="tm">0.5</text><text x="170" y="204" class="tm">1.0</text>
<text x="80" y="223" class="tm"><tspan font-style="italic">R</tspan>/m</text>
<text transform="translate(-42,94) rotate(-90)" class="tm"><tspan font-style="italic">X</tspan>/m</text>
</g>
<rect x="1476" y="1164" width="15" height="168" fill="url(#cbg)"/>
<text x="1521" y="1156.5" class="ct">Zr</text>
<g class="cb"><text x="1495" y="1176.5">4.40E−02</text><text x="1495" y="1198.8">4.33E−02</text><text x="1495" y="1221.1">4.27E−02</text><text x="1495" y="1243.4">4.20E−02</text><text x="1495" y="1265.6">4.14E−02</text><text x="1495" y="1287.9">4.07E−02</text><text x="1495" y="1310.2">4.01E−02</text><text x="1495" y="1332.5">3.94E−02</text></g>

<!-- dashed region boxes -->
<g fill="none" stroke="#1e1e1e" stroke-width="2" stroke-dasharray="9 5">
<rect x="61" y="889" width="1405" height="56"/>
<rect x="61" y="997" width="1405" height="55"/>
<rect x="61" y="1182" width="1405" height="55"/>
<rect x="61" y="1293" width="1405" height="53"/>
</g>
<g class="cs" font-size="26" fill="#333" text-anchor="middle">
<text x="80" y="927">上</text><text x="80" y="1032">下</text>
<text x="80" y="1227">上</text><text x="80" y="1331">下</text>
</g>

<g font-size="26" text-anchor="middle" fill="#1a1a1a">
<text x="239" y="1426">Al</text><text x="483" y="1426">Cr</text><text x="725" y="1426">Mo</text><text x="962" y="1426">O</text><text x="1214" y="1426">V</text><text x="1459" y="1426">Zr</text>
</g>

<text class="cap" x="145" y="1476" textLength="1281" lengthAdjust="spacing"><tspan class="hs">图 7　</tspan>MeltFlow-VAR <tspan class="hs">模拟不同的一次熔炼工艺下</tspan> TB9 <tspan class="hs">钛合金三次铸锭中</tspan> Al<tspan class="hs">、</tspan>Cr<tspan class="hs">、</tspan>Mo<tspan class="hs">、</tspan>O<tspan class="hs">、</tspan>V<tspan class="hs">、</tspan>Zr <tspan class="hs">元素分布</tspan></text>
<text class="cap" x="19" y="1515">Fig. 7</text>
<text class="cap" x="118" y="1515" textLength="1432" lengthAdjust="spacing">MeltFlow-VAR simulates the distribution of Al, Cr, Mo, O, V and Zr in the tertiary ingot of TB9 titanium alloy un-</text>
<text class="cap" x="118" y="1549" textLength="481" lengthAdjust="spacing">der different primary melting processes</text>
</svg>
</body></html>
